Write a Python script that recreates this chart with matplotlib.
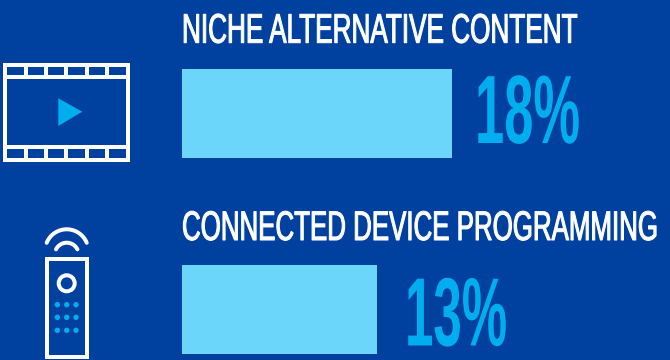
import numpy as np
import matplotlib
matplotlib.use("Agg")
import matplotlib.pyplot as plt
import matplotlib.patheffects as pe
from matplotlib.patches import Rectangle, Polygon, Circle
from matplotlib.transforms import Affine2D

categories = ["NICHE ALTERNATIVE CONTENT", "CONNECTED DEVICE PROGRAMMING"]
values = [18, 13]

W, H = 670, 360
BG = "#00409f"
BAR = "#6cd6fa"
CYAN = "#00aeef"
BAR_LEFT = 182
PX_PER_PCT = 15
FONT = "Liberation Sans"


class Tall(pe.AbstractPathEffect):
    # stretches a line of text upwards from its baseline, for a condensed look
    def __init__(self, sy, stroke=0):
        super().__init__()
        self.sy = sy
        self.stroke = stroke

    def draw_path(self, renderer, gc, tpath, affine, rgbFace=None):
        y0 = affine.get_matrix()[1, 2]
        tall = affine + Affine2D().translate(0, -y0).scale(1, self.sy).translate(0, y0)
        gc0 = renderer.new_gc()
        gc0.copy_properties(gc)
        gc0.set_linewidth(self.stroke)
        gc0.set_foreground(rgbFace)
        renderer.draw_path(gc0, tpath, tall, rgbFace)
        gc0.restore()


def fit_text(t, width, cap_height, stroke=0):
    # font size from the wanted width, vertical stretch from the wanted cap height
    r = t.figure.canvas.get_renderer()
    t.set_fontsize(t.get_fontsize() * width / t.get_window_extent(r).width)
    cap = 0.69 * t.get_fontsize() * 100 / 72
    t.set_path_effects([Tall(cap_height / cap, stroke)])


fig = plt.figure(figsize=(W / 100, H / 100), dpi=100, facecolor=BG)

# pixel canvas for icons and text
px = fig.add_axes([0, 0, 1, 1], zorder=1)
px.set_xlim(0, W)
px.set_ylim(H, 0)
px.axis("off")
px.patch.set_alpha(0)

# bars, x axis in percent
ax = fig.add_axes([0, 0, 1, 1], zorder=0, facecolor=BG)
ax.set_xlim(-BAR_LEFT / PX_PER_PCT, (W - BAR_LEFT) / PX_PER_PCT)
ax.set_ylim(H, 0)
ax.axis("off")
ax.barh([113.5, 309.5], values, height=89, left=0, color=BAR)

for name, y, w in zip(categories, [42.7, 240], [395, 475]):
    t = px.text(182, y, name, color="white", fontsize=20, family=FONT, va="baseline")
    fit_text(t, w, 28.5, stroke=0.75)

for v, y, gap, w in zip(values, [143, 345.5], [23, 28], [105, 102]):
    t = px.text(BAR_LEFT + v * PX_PER_PCT + gap, y, f"{v}%", color=CYAN, fontsize=40, family=FONT,
                weight="bold", va="baseline")
    fit_text(t, w, 67)

# film strip icon
LW = 4 * 0.72
px.add_patch(Rectangle((5, 65), 123, 95, fill=False, ec="white", lw=LW))
px.plot([5, 128], [77, 77], color="white", lw=LW, solid_capstyle="butt")
px.plot([5, 128], [147, 147], color="white", lw=LW, solid_capstyle="butt")
for x in [26, 46, 66, 87, 107]:
    px.plot([x, x], [65, 77], color="white", lw=LW, solid_capstyle="butt")
    px.plot([x, x], [147, 160], color="white", lw=LW, solid_capstyle="butt")
px.add_patch(Polygon([(58.3, 98.3), (82.3, 111.7), (58.3, 126)], fc=CYAN, ec="none"))

# remote icon
px.add_patch(Rectangle((47, 258.5), 39.5, 98, fill=False, ec="white", lw=LW))
px.add_patch(Circle((66.7, 283.3), 8, fill=False, ec="white", lw=LW))
for dy in [304.7, 317.3, 330.3]:
    for dx in [57.3, 66.7, 76]:
        px.add_patch(Circle((dx, dy), 2.7, fc=CYAN, ec="none"))
for cy, r, half in [(250.9, 21.6, 68), (254.6, 11.9, 64)]:
    t = np.radians(np.linspace(-half, half, 40))
    px.plot(66.7 + r * np.sin(t), cy - r * np.cos(t), color="white", lw=LW, solid_capstyle="round")

fig.savefig("out.png", dpi=100, facecolor=BG)
